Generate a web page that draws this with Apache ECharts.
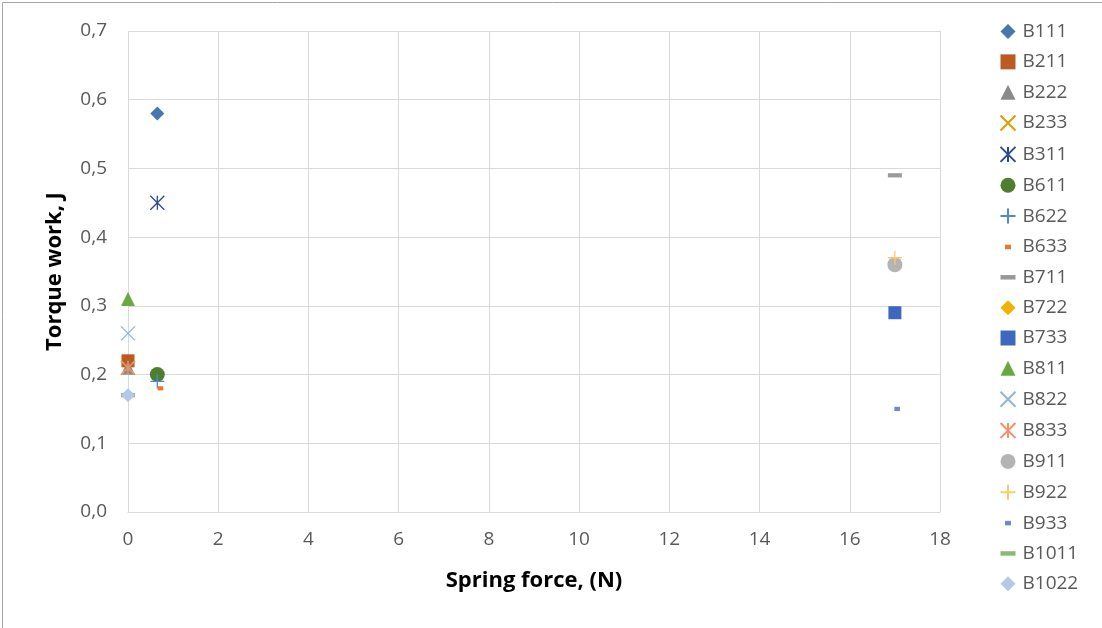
<!DOCTYPE html>
<html><head><meta charset="utf-8">
<script src="https://cdn.jsdelivr.net/npm/echarts@6/dist/echarts.min.js"></script>
<style>html,body{margin:0;padding:0;background:#fff}#c{width:1102px;height:628px}</style>
</head><body><div id="c"></div>
<script>
const seriesNames = ['B111','B211','B222','B233','B311','B611','B622','B633','B711','B722','B733','B811','B822','B833','B911','B922','B933','B1011','B1022'];
const seriesX = [0.65,0,0,0,0.65,0.65,0.65,0.72,17,17,17,0,0,0,17,17,17.05,0,0];
const seriesY = [0.58,0.22,0.21,0.21,0.45,0.2,0.19,0.18,0.49,0.36,0.29,0.31,0.26,0.21,0.36,0.37,0.15,0.17,0.17];
const xTicks = [0,2,4,6,8,10,12,14,16,18];
const yTicks = [0,0.1,0.2,0.3,0.4,0.5,0.6,0.7];

const X='path://M0,0L10,10M10,0L0,10', AST='path://M0,0L10,10M10,0L0,10M5,0L5,10', PLUS='path://M5,0L5,10M0,5L10,5';
const DASHL='path://M0,0M0,3.5L10,3.5L10,6.5L0,6.5ZM10,10';
const DASHS='path://M0,0M3,3.5L7,3.5L7,6.5L3,6.5ZM10,10';
const styles = [
 {s:'diamond',z:14,c:'#4677AF'},
 {s:'rect',z:13,c:'#BB5A22'},
 {s:'triangle',z:14,c:'#8A8A8A'},
 {s:X,z:14,c:'#D9A000',line:true},
 {s:AST,z:14,c:'#2A4B8C',line:true},
 {s:'circle',z:15,c:'#4E7E30'},
 {s:PLUS,z:14,c:'#4A8BCE',line:true},
 {s:DASHS,z:14,c:'#E5792F'},
 {s:DASHL,z:14,c:'#9A9A9A'},
 {s:'diamond',z:14,c:'#F2B200'},
 {s:'rect',z:13,c:'#3E68BE'},
 {s:'triangle',z:14,c:'#6BA844'},
 {s:X,z:14,c:'#8EB4E3',line:true},
 {s:AST,z:14,c:'#F0936A',line:true},
 {s:'circle',z:15,c:'#B4B4B4'},
 {s:PLUS,z:14,c:'#FFC96B',line:true},
 {s:DASHS,z:14,c:'#7486CC'},
 {s:DASHL,z:14,c:'#8DB871'},
 {s:'diamond',z:14,c:'#B4C9E8'}
];
const series = seriesNames.map((n,i)=>{
 const st=styles[i];
 return {name:n,type:'scatter',data:[[seriesX[i],seriesY[i]]],symbol:st.s,symbolSize:st.z,
  itemStyle: st.line?{color:'none',borderColor:st.c,borderWidth:1.3,opacity:1}:{color:st.c,opacity:1},
  emphasis:{disabled:true}};
});
const fmt = v=>v.toFixed(1).replace('.',',');
const chart = echarts.init(document.getElementById('c'),null,{renderer:'canvas'});
chart.setOption({
 animation:false,
 textStyle:{fontFamily:'Open Sans'},
 graphic:[{type:'rect',left:0,top:0,shape:{x:0.5,y:0.5,width:1101,height:627},style:{fill:'none',stroke:'#a6a6a6',lineWidth:1},silent:true}],
 grid:{left:128,right:162,top:31,bottom:116,containLabel:false},
 xAxis:{type:'value',min:0,max:18,interval:2,
  name:'Spring force, (N)',nameLocation:'middle',nameGap:58,
  nameTextStyle:{fontWeight:'bold',fontSize:22,color:'#000'},
  axisLine:{show:true,lineStyle:{color:'#d9d9d9'}},axisTick:{show:false},
  axisLabel:{color:'#595959',fontSize:19,margin:18},
  splitLine:{show:true,lineStyle:{color:'#d9d9d9'}}},
 yAxis:{type:'value',min:0,max:0.7,interval:0.1,
  name:'Torque work, J',nameLocation:'middle',nameGap:62,nameRotate:90,
  nameTextStyle:{fontWeight:'bold',fontSize:22,color:'#000'},
  axisLine:{show:false},axisTick:{show:false},
  axisLabel:{color:'#595959',fontSize:19,margin:21,formatter:fmt},
  splitLine:{show:true,lineStyle:{color:'#d9d9d9'}}},
 legend:{orient:'vertical',left:998,top:22,padding:0,itemGap:11.35,itemWidth:15,itemHeight:15,
  textStyle:{color:'#595959',fontSize:19,padding:[0,0,0,2]},data:seriesNames},
 series:series
});
</script></body></html>
